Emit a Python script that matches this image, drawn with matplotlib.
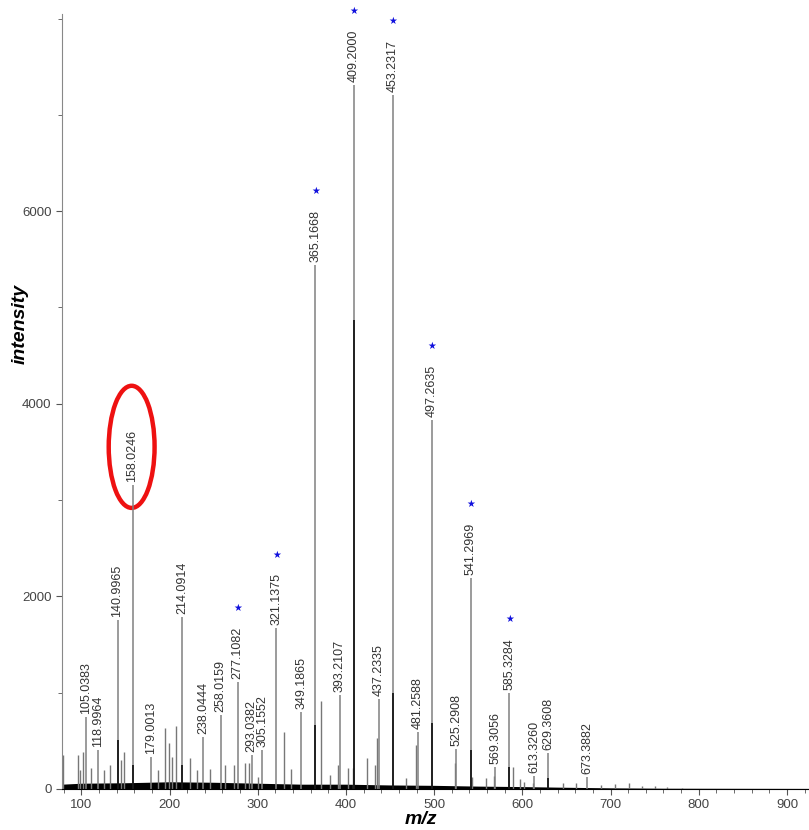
import matplotlib
matplotlib.use("Agg")
import matplotlib.pyplot as plt
from matplotlib.patches import Ellipse
from matplotlib.ticker import MultipleLocator, FixedLocator

plt.rcParams['font.family'] = ['Liberation Sans', 'DejaVu Sans']

# labelled peaks (m/z, intensity)
label_mz = [105.0383, 118.9964, 140.9965, 158.0246, 179.0013, 214.0914, 238.0444,
            258.0159, 277.1082, 293.0382, 305.1552, 321.1375, 349.1865, 365.1668,
            393.2107, 409.2000, 437.2335, 453.2317, 481.2588, 497.2635, 525.2908,
            541.2969, 569.3056, 585.3284, 613.3260, 629.3608, 673.3882]
label_int = [748, 405, 1755, 3160, 332, 1785, 540, 769, 1112, 353, 405, 1670, 800,
             5444, 977, 7314, 935, 7210, 592, 3834, 415, 2192, 228, 997, 135, 374, 125]

# peaks marked with a blue star
star_mz = [277.1082, 321.1375, 365.1668, 409.2000, 453.2317, 497.2635, 541.2969, 585.3284]
star_int = [1112, 1670, 5444, 7314, 7210, 3834, 2192, 997]

# darker overlapping peaks at the same positions
dark_mz = [140.9965, 158.0246, 214.0914, 365.1668, 409.2000, 453.2317, 497.2635,
           541.2969, 585.3284, 629.3608]
dark_int = [509, 250, 250, 665, 4870, 1000, 690, 405, 230, 114]

# unlabelled minor peaks
minor_mz = [79.6, 95.8, 98.1, 101.8, 110.9, 126.1, 132.9, 144.9, 148.3, 186.9, 194.5,
            199.0, 202.8, 207.7, 222.8, 231.1, 246.2, 263.3, 273.5, 285.0, 290.0, 300.5,
            329.7, 338.0, 371.7, 382.1, 390.5, 401.8, 407.5, 424.2, 433.0, 435.6, 467.9,
            479.3, 524.1, 543.1, 558.3, 567.8, 589.0, 597.8, 602.3, 611.8, 646.0, 661.2,
            689.5, 705.5, 720.8, 735.2, 750.4, 764.5, 781.5]
minor_int = [353, 353, 197, 385, 218, 197, 250, 301, 385, 197, 634, 478, 332, 655, 322,
             197, 208, 250, 250, 270, 270, 125, 592, 208, 914, 145, 250, 218, 218, 322,
             250, 530, 114, 457, 270, 125, 114, 135, 228, 104, 73, 62, 62, 62, 42, 52,
             62, 31, 31, 25, 15]

# baseline noise envelope
base_mz = [78, 100, 150, 200, 250, 300, 350, 400, 450, 500, 550, 600, 650, 700, 760, 926]
base_int = [50, 60, 65, 75, 70, 60, 50, 50, 42, 38, 30, 25, 18, 12, 8, 6]

fig = plt.figure(figsize=(8.09, 8.30), dpi=100)
ax = fig.add_axes([0.0766, 0.0494, 0.9234, 0.934])

ax.fill_between(base_mz, 0, base_int, color='black', lw=0)
ax.vlines(minor_mz, 0, minor_int, colors='#777777', lw=1.0)
ax.vlines(label_mz, 0, label_int, colors='#808080', lw=1.1)
ax.vlines(dark_mz, 0, dark_int, colors='black', lw=1.1)

for mz, inten in zip(label_mz, label_int):
    ax.annotate(f"{mz:.4f}", (mz, inten), xytext=(0, 2), textcoords='offset points',
                rotation=90, ha='center', va='bottom', fontsize=9, color='#333333')

for mz, inten in zip(star_mz, star_int):
    ax.annotate("★", (mz, inten), xytext=(0, 53), textcoords='offset points',
                ha='center', va='center', fontsize=7, color='#1010dd',
                family='DejaVu Sans')

# red circle around the 158.0246 label
ax.add_patch(Ellipse((157, 3553), 52, 1268, fill=False, edgecolor='#ee1111', lw=3.2))

ax.set_xlim(78, 925)
ax.set_ylim(0, 8050)

ax.xaxis.set_major_locator(MultipleLocator(100))
ax.xaxis.set_minor_locator(MultipleLocator(20))
ax.yaxis.set_major_locator(FixedLocator([0, 2000, 4000, 6000]))
ax.yaxis.set_minor_locator(FixedLocator([1000, 3000, 5000, 7000, 8000]))
ax.tick_params(axis='both', which='both', direction='out', labelsize=9.5,
               labelcolor='#444444', color='#555555')
ax.tick_params(which='major', length=4)
ax.tick_params(which='minor', length=3)

for side in ['top', 'right']:
    ax.spines[side].set_visible(False)
ax.spines['left'].set_color('#888888')
ax.spines['bottom'].set_color('black')

ax.set_xlabel("m/z", fontsize=14, fontstyle='italic', fontweight='bold')
ax.set_ylabel("intensity", fontsize=14, fontstyle='italic', fontweight='bold')
ax.xaxis.set_label_coords(0.48, -0.029)
ax.yaxis.set_label_coords(-0.045, 0.6)

fig.savefig("out.png", dpi=100)
